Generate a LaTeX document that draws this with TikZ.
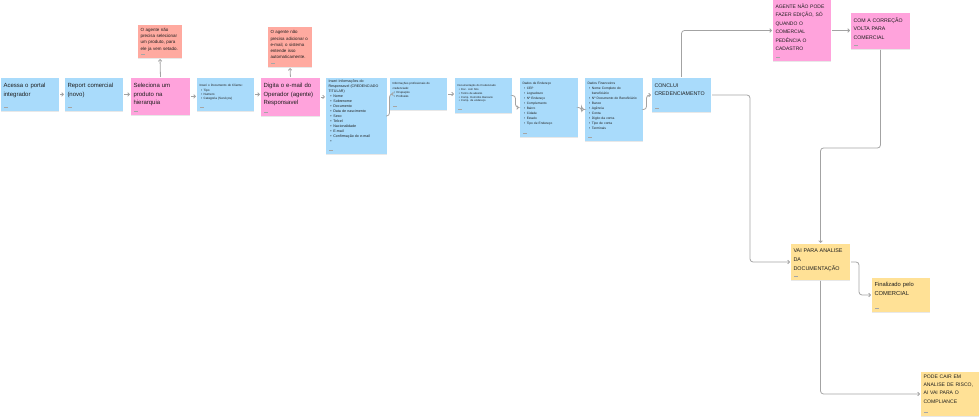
\documentclass[tikz,border=0pt]{standalone}
\usepackage{fontspec}
\setmainfont{Liberation Sans}
\usepackage{xcolor}
\usetikzlibrary{arrows.meta, calc, positioning, shadows}

\definecolor{stickyblue}{HTML}{A9DBFB}
\definecolor{stickypink}{HTML}{FFA3DC}
\definecolor{stickysalmon}{HTML}{FFAAA0}
\definecolor{stickyyellow}{HTML}{FFE196}
\definecolor{linegray}{HTML}{A3A3A3}
\definecolor{inkdark}{HTML}{1E1E1E}

\newcommand{\bitem}[1]{\\\hspace*{0.5em}\textbullet\hspace{0.5em}#1}
\newcommand{\bcont}[1]{\\\hspace*{1.35em}#1}

\begin{document}
\begin{tikzpicture}[x=1pt, y=-1pt,
    card/.style={fill=#1, anchor=north west, align=left, inner xsep=2.5pt, inner ysep=0pt, outer sep=0pt,
        text=inkdark, text height=9.5pt,
        drop shadow={shadow xshift=0pt, shadow yshift=-0.7pt, opacity=0.18},
        path picture={\draw[black!35, line width=0.4pt] ([xshift=3pt, yshift=3.5pt]path picture bounding box.south west) -- ++(4,0);}},
    big/.style={font=\fontsize{6}{8.6}\selectfont},
    caps/.style={font=\fontsize{5.2}{8.4}\selectfont},
    flow/.style={draw=linegray, line width=0.8pt, rounded corners=3pt, shorten >=1pt, shorten <=1pt,
        -{Straight Barb[length=1.8pt, width=3.6pt]}}]
    \useasboundingbox (0,0) rectangle (980,419);

    \node[card=stickyblue, big, text width=53pt, text depth=23.5pt] (acessa) at (1,78) {Acessa o portal\\integrador};
    \node[card=stickyblue, big, text width=53pt, text depth=23.5pt] (report) at (65,78) {Report comercial\\(novo)};
    \node[card=stickypink, big, text width=54pt, text depth=27.5pt] (seleciona) at (131,78) {Seleciona um\\produto na\\hierarquia};
    \node[card=stickysalmon, font=\fontsize{4.5}{6.2}\selectfont, text width=39pt, text height=6.6pt, text depth=26.4pt] (nota1) at (138,25)
        {O agente não\\precisa selecionar\\um produto, para\\ele ja vem setado.};
    \node[card=stickyblue, font=\fontsize{3.1}{4.2}\selectfont, text width=52pt, text height=9pt, text depth=24pt] (documento) at (197,78)
        {Inseri o Documento do Cliente:\bitem{Tipo}\bitem{Numero}\bitem{Categoria (Serviços)}};
    \node[card=stickypink, big, text width=54pt, text depth=28.5pt] (digita) at (261,78) {Digita o e-mail do\\Operador (agente)\\Responsavel};
    \node[card=stickysalmon, font=\fontsize{4.4}{6.2}\selectfont, text width=39pt, text height=7pt, text depth=33pt] (nota2) at (268,27)
        {O agente não\\precisa adicionar o\\e-mail, o sistema\\entende isso\\automaticamente.};
    \node[card=stickyblue, font=\fontsize{3.6}{5}\selectfont, text width=56pt, text height=5pt, text depth=71pt] (responsavel) at (326,78)
        {Inseri Informações do\\Responsavel (CREDENCIADO\\TITULAR)\bitem{Nome}\bitem{Sobrenome}\bitem{Documento}\bitem{Data de nascimento}%
        \bitem{Sexo}\bitem{Telcel}\bitem{Nacionalidade}\bitem{E-mail}\bitem{Confirmação do e-mail}\bitem{}};
    \node[card=stickyblue, font=\fontsize{2.9}{4.3}\selectfont, text width=52pt, text height=7pt, text depth=25pt] (profissional) at (390,78)
        {Informações profissionais do\\credenciado:\bitem{Ocupação}\bitem{Profissão}};
    \node[card=stickyblue, font=\fontsize{2.7}{3.7}\selectfont, text width=52pt, text height=9pt, text depth=26pt] (documentacao) at (455,78)
        {Documentação do Credenciado\bitem{Doc. com foto}\bitem{Termo de adesão}\bitem{Comp. Domicilio Bancario}\bitem{Comp. de endereço}};
    \node[card=stickyblue, font=\fontsize{3.2}{5}\selectfont, text width=53pt, text height=7pt, text depth=52pt] (endereco) at (520,78)
        {Dados de Endereço\bitem{CEP}\bitem{Logradouro}\bitem{Nº Endereço}\bitem{Complemento}\bitem{Bairro}\bitem{Cidade}%
        \bitem{Estado}\bitem{Tipo de Endereço}};
    \node[card=stickyblue, font=\fontsize{3.3}{5}\selectfont, text width=53pt, text height=7pt, text depth=56pt] (financeiro) at (585,78)
        {Dados Financeiros\bitem{Nome Completo do}\bcont{beneficiário}\bitem{Nº Documento do Beneficiário}\bitem{Banco}\bitem{Agência}%
        \bitem{Conta}\bitem{Digito da conta}\bitem{Tipo de conta}\bitem{Terminais}};
    \node[card=stickyblue, font=\fontsize{5.3}{8.4}\selectfont, text width=54pt, text depth=24.5pt] (conclui) at (652,78) {CONCLUI\\CREDENCIAMENTO};
    \node[card=stickypink, font=\fontsize{5}{8.4}\selectfont, text width=53pt, text height=8.5pt, text depth=52.5pt] (agente) at (773,0)
        {AGENTE NÃO PODE\\FAZER EDIÇÃO, SÓ\\QUANDO O\\COMERCIAL\\PEDÊNCIA O\\CADASTRO};
    \node[card=stickypink, caps, text width=54pt, text depth=26.5pt] (correcao) at (851,13) {COM A CORREÇÃO\\VOLTA PARA\\COMERCIAL};
    \node[card=stickyyellow, font=\fontsize{5.4}{8.6}\selectfont, text width=54pt, text height=9pt, text depth=27pt] (analise) at (791,244)
        {VAI PARA ANALISE\\DA\\DOCUMENTAÇÃO};
    \node[card=stickyyellow, font=\fontsize{5.8}{8.4}\selectfont, text width=53pt, text height=9pt, text depth=25pt] (finalizado) at (872,278)
        {Finalizado pelo\\COMERCIAL};
    \node[card=stickyyellow, font=\fontsize{5.1}{8.2}\selectfont, text width=53pt, text height=6.5pt, text depth=37.5pt] (risco) at (921,372)
        {PODE CAIR EM\\ANALISE DE RISCO,\\AI VAI PARA O\\COMPLIANCE};

    \coordinate (volta) at (820.5,148);

    \draw[flow] (acessa.east) -- (acessa.east -| report.west);
    \draw[flow] (report.east) -- (report.east -| seleciona.west);
    \draw[flow] (seleciona.north) -- (nota1.south);
    \draw[flow] (seleciona.east) -- (seleciona.east -| documento.west);
    \draw[flow] (documento.east) -- (documento.east -| digita.west);
    \draw[flow] (digita.north) -- (nota2.south);
    \draw[flow] (digita.east) -- (digita.east -| responsavel.west);
    \draw[flow] (responsavel.east) -- ++(2.5,0) |- (profissional.west);
    \draw[flow] (profissional.east) -- (profissional.east -| documentacao.west);
    \draw[flow] (documentacao.east) -- ++(3.5,0) |- (endereco.west);
    \draw[flow] (endereco.east) -- ++(3.5,0) |- (financeiro.west);
    \draw[flow] (financeiro.east) -- ++(3.5,0) |- (conclui.west);
    \draw[flow] (conclui.north) |- (agente.west);
    \draw[flow] (agente.east) -- (agente.east -| correcao.west);
    \draw[flow] (correcao.south) |- (volta) -- (analise.north);
    \draw[flow] (conclui.east) -- ++(39,0) |- (analise.west);
    \draw[flow] (analise.east) -- ++(9,0) |- (finalizado.west);
    \draw[flow] (analise.south) |- (risco.west);
\end{tikzpicture}
\end{document}
